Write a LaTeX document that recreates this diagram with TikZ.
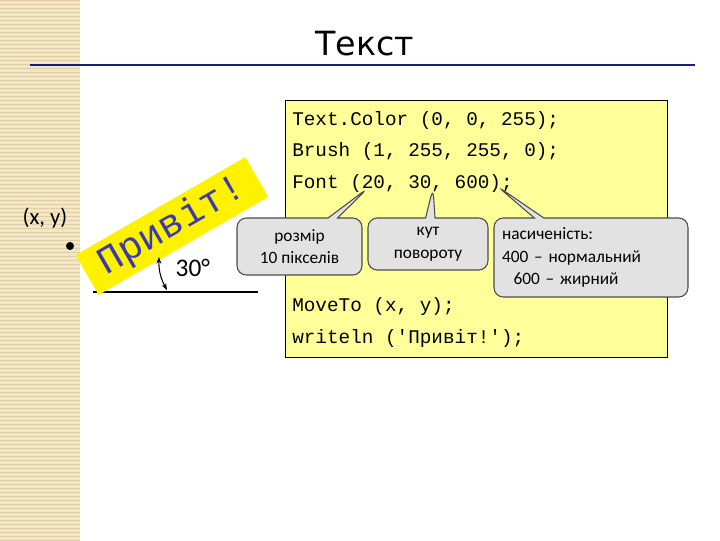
\documentclass[tikz,border=0pt]{standalone}
\usepackage{fontspec}
\setmainfont{Carlito}
\newfontfamily\codefont{Liberation Mono}
\newfontfamily\titlefont{DejaVu Sans}
\usetikzlibrary{shapes.callouts,arrows.meta}
\definecolor{codebg}{HTML}{FFFF99}
\definecolor{stripe}{HTML}{F1E6C8}
\definecolor{stripeline}{HTML}{E0CFA4}
\definecolor{callgray}{HTML}{E2E2E2}
\definecolor{titleblue}{HTML}{1A1A80}
\definecolor{privit}{HTML}{3A3AB0}
\tikzset{
  callbox/.style={shape=rectangle callout, draw=black!70, fill=callgray, line width=0.8pt, rounded corners=7pt, align=center, font=\fontsize{13}{17}\selectfont, inner sep=0pt},
  codeline/.style={anchor=west, font=\codefont\fontsize{14.5}{16}\selectfont, inner sep=0pt}
}
\begin{document}
\begin{tikzpicture}[x=0.75pt,y=-0.75pt]
\useasboundingbox (0,0) rectangle (720,540);
\fill[white] (0,0) rectangle (720,540);
% left stripe
\fill[stripe] (0,0) rectangle (80,540);
\foreach \i in {0,4,...,540} \draw[stripeline,line width=0.4pt] (0,\i) -- (80,\i);
% title
\node[font=\titlefont\fontsize{25}{28}\selectfont] (title) at (365,44) {Текст};
\draw[titleblue,line width=2.2pt] (30,65) -- (695,65);
% code box
\node[draw=black,fill=codebg,line width=0.8pt,minimum width=382*0.75pt,minimum height=257*0.75pt,anchor=north west,inner sep=0pt] (code) at (285,100) {};
\node[codeline] (l1) at (292,120) {Text.Color (0, 0, 255);};
\node[codeline] (l2) at (292,151) {Brush (1, 255, 255, 0);};
\node[codeline] (l3) at (292,183) {Font (20, 30, 600);};
\node[codeline] (l4) at (292,306) {MoveTo (x, y);};
\node[codeline] (l5) at (292,338) {writeln ('Привіт!');};
% callouts
\coordinate (p1) at (368,188);
\coordinate (p2) at (433,188);
\coordinate (p3) at (497,186);
\node[callbox, minimum width=125*0.75pt, minimum height=57*0.75pt, callout absolute pointer={(p1)}] (c1) at (299.5,246.5) {розмір\\10 пікселів};
\node[callbox, minimum width=120*0.75pt, minimum height=52*0.75pt, callout absolute pointer={(p2)}] (c2) at (428,244) {кут\\повороту};
\node[callbox, minimum width=194*0.75pt, minimum height=79*0.75pt, callout absolute pointer={(p3)}, align=left, text width=178*0.75pt] (c3) at (591,257.5) {насиченість:\\ 400 -- нормальний\\ \ \ 600 -- жирний};
% left drawing
\node[font=\fontsize{17}{18}\selectfont] (xy) at (45,218) {(x, y)};
\fill (70,246) circle (4);
\coordinate (base1) at (93,292);
\coordinate (base2) at (258,292);
\draw[line width=0.8pt] (base1) -- (base2);
\node[fill=yellow,rotate=30,minimum width=196*0.75pt,minimum height=46*0.75pt,inner sep=0pt,text=privit,font=\codefont\fontsize{29}{29}\selectfont] (pv) at (172,226) {Привіт!};
\coordinate (a1) at (159,257);
\coordinate (a2) at (167,290);
\draw[{Stealth[length=5pt]}-{Stealth[length=5pt]},line width=0.8pt] (a1) to[bend right=15] (a2);
\node[font=\fontsize{19}{20}\selectfont,anchor=west] (deg) at (171,268) {30°};
\end{tikzpicture}
\end{document}
